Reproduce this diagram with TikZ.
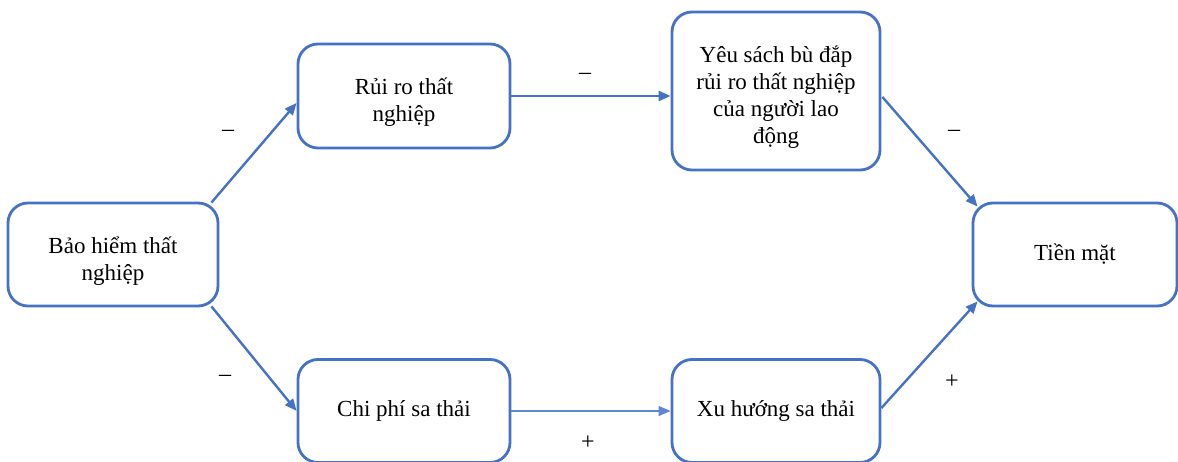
\documentclass[tikz,border=0pt]{standalone}
\usepackage{fontspec}
\setmainfont{Liberation Serif}
\usetikzlibrary{arrows.meta,calc}
\definecolor{boxblue}{HTML}{4472C4}
\newcommand{\mytopstrut}{\rule{0pt}{29pt}}
\begin{document}
\begin{tikzpicture}[x=1pt,y=-1pt,
  box/.style={draw=boxblue,line width=2.8pt,rounded corners=20pt,align=center,
    font=\fontsize{23}{27}\selectfont,inner sep=0pt},
  conn/.style={draw=boxblue,line width=2.4pt,-{Triangle[length=12pt,width=10pt]}},
  thinconn/.style={draw=boxblue!85,line width=1.3pt,-{Triangle[length=12pt,width=10pt]}},
  sign/.style={font=\fontsize{24}{28}\selectfont,inner sep=0pt}]
\useasboundingbox (0,0) rectangle (1178,462);
\fill[white] (0,0) rectangle (1178,462);
\node[box,minimum width=210pt,minimum height=103pt] (A) at (113,254.5) {\mytopstrut Bảo hiểm thất\\nghiệp};
\node[box,minimum width=212pt,minimum height=104pt] (B) at (404,96) {\mytopstrut Rủi ro thất\\nghiệp};
\node[box,minimum width=208pt,minimum height=158pt] (C) at (776,91) {\mytopstrut Yêu sách bù đắp\\rủi ro thất nghiệp\\của người lao\\động};
\node[box,minimum width=204pt,minimum height=103pt] (D) at (1075,254.5) {Tiền mặt};
\node[box,minimum width=212pt,minimum height=103pt] (E) at (404,411) {Chi phí sa thải};
\node[box,minimum width=208pt,minimum height=103pt] (F) at (776,411) {Xu hướng sa thải};
\coordinate (a1) at ($(A.north east)+(-8,1)$);
\coordinate (a2) at ($(A.south east)+(-8,-1)$);
\coordinate (b1) at ($(B.west)+(0,7)$);
\coordinate (c1) at ($(C.west)+(0,5)$);
\coordinate (c2) at ($(C.east)+(1,6)$);
\coordinate (d1) at ($(D.north west)+(6,5)$);
\coordinate (d2) at ($(D.south west)+(6,-6)$);
\coordinate (f1) at ($(F.east)+(0,-3)$);
\draw[conn] (a1) -- (b1);
\draw[conn] (a2) -- (E.west);
\draw[conn] (B.east |- c1) -- (c1);
\draw[conn] (c2) -- (d1);
\draw[conn] (f1) -- (d2);
\draw[thinconn] (E.east) -- (F.west);
\node[sign] (s1) at (228,133) {–};
\node[sign] (s2) at (585,76) {–};
\node[sign] (s3) at (954,133) {–};
\node[sign] (s4) at (225,378) {–};
\node[sign] (s5) at (588,443) {+};
\node[sign] (s6) at (952,382) {+};
\end{tikzpicture}
\end{document}
